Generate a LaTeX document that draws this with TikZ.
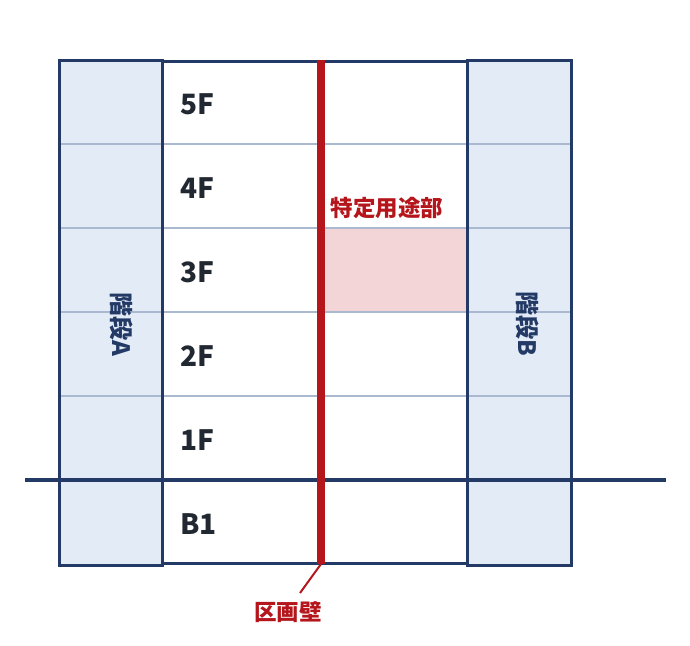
\documentclass[tikz,border=0pt]{standalone}
\usepackage{fontspec}
\setmainfont{Noto Sans CJK JP}
\usetikzlibrary{positioning}
\definecolor{navy}{RGB}{35,58,102}
\definecolor{floorgrey}{RGB}{170,184,208}
\definecolor{stairblue}{RGB}{227,235,246}
\definecolor{pinkzone}{RGB}{243,213,216}
\definecolor{wallred}{RGB}{180,22,27}
\definecolor{inkgrey}{RGB}{34,40,49}

\begin{document}
\begin{tikzpicture}[x=1pt,y=-1pt,
  wallline/.style={draw=navy,line width=3pt},
  floorline/.style={draw=floorgrey,line width=2pt},
  floorlabel/.style={font=\fontsize{28}{30}\selectfont\bfseries,text=inkgrey,anchor=west,inner sep=0pt},
  stairlabel/.style={font=\fontsize{24}{26}\selectfont\bfseries,text=navy,rotate=-90,inner sep=0pt},
  redlabel/.style={font=\fontsize{22.5}{24}\selectfont\bfseries,text=wallred,inner sep=0pt}]
\useasboundingbox (0,0) rectangle (690,645);
% stair fills and the special use zone
\fill[stairblue] (59,60) rectangle (162,565);
\fill[stairblue] (467,60) rectangle (571,565);
\fill[pinkzone] (325,229) rectangle (467,311);
% floor lines
\foreach \y in {144,228,312,396}
  \draw[floorline] (59,\y) -- (571,\y);
% outlines
\draw[wallline] (59,60) rectangle (162,565);
\draw[wallline] (467,60) rectangle (571,565);
\draw[wallline] (162,61) rectangle (467,563);
% ground line
\draw[navy,line width=4pt] (25,480) -- (666,480);
% floor labels
\foreach \f/\y [count=\i] in {5F/104,4F/188,3F/272,2F/356,1F/440,B1/524}
  \node[floorlabel] (fl\i) at (180,\y) {\f};
% stairs
\node[stairlabel] (stairA) at (122,324) {階段A};
\node[stairlabel] (stairB) at (528,324) {階段B};
% fire wall
\coordinate (walltop) at (321,60);
\coordinate (wallbot) at (321,564);
\draw[wallred,line width=8pt] (walltop) -- (wallbot);
\node[redlabel] (zone) at (387,208) {特定用途部};
\node[redlabel] (wall) at (288,612) {区画壁};
\coordinate (leadend) at (300,593);
\draw[wallred,line width=2pt] (wallbot) -- (leadend);
\end{tikzpicture}
\end{document}
